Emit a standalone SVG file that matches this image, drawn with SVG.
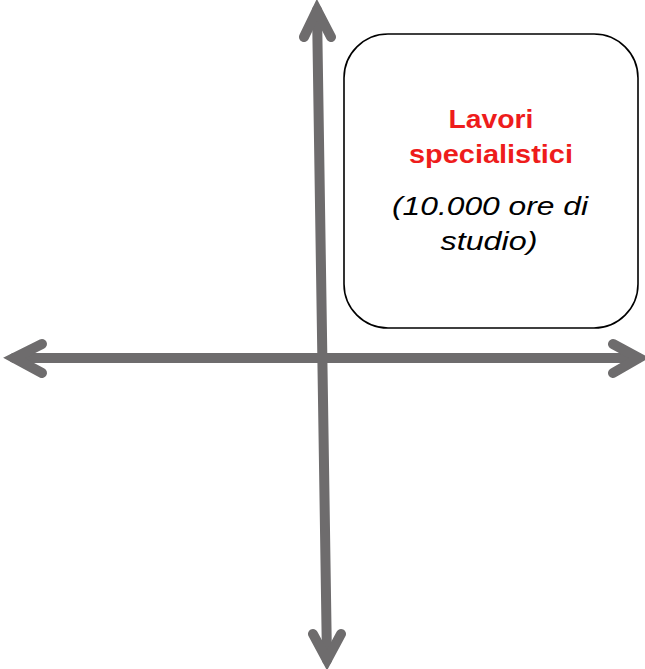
<svg xmlns="http://www.w3.org/2000/svg" width="645" height="669" viewBox="0 0 645 669">
  <style>
    .axis { fill: none; stroke: #6e6c6d; stroke-width: 10; stroke-linecap: round; stroke-linejoin: miter; }
    .box { fill: #ffffff; stroke: #000000; stroke-width: 1.6; }
    .title { font-family: "Liberation Sans", Arial, sans-serif; font-weight: bold; font-size: 26px; fill: #ee1c1c; text-anchor: middle; }
    .note { font-family: "Liberation Sans", Arial, sans-serif; font-style: italic; font-size: 26px; fill: #000000; text-anchor: middle; }
  </style>
  <rect width="645" height="669" fill="#ffffff"/>
  <g id="connectors">
    <!-- vertical axis with both heads -->
    <line class="axis" x1="317" y1="10" x2="327" y2="660"/>
    <polyline class="axis" points="304,37 317,10 331,37"/>
    <polyline class="axis" points="313,634 327,660 341,634"/>
    <!-- horizontal axis with both heads -->
    <line class="axis" x1="14" y1="358" x2="638" y2="358"/>
    <polyline class="axis" points="42,344 14,358 42,373"/>
    <polyline class="axis" points="613,344 639,358 613,373"/>
  </g>
  <g id="node-lavori">
    <rect class="box" x="344" y="34" width="294" height="294" rx="44" ry="44"/>
    <text class="title" x="491" y="128" textLength="85" lengthAdjust="spacingAndGlyphs">Lavori</text>
    <text class="title" x="491" y="163" textLength="164" lengthAdjust="spacingAndGlyphs">specialistici</text>
    <text class="note" x="490" y="215" textLength="196" lengthAdjust="spacingAndGlyphs">(10.000 ore di</text>
    <text class="note" x="489" y="250" textLength="97" lengthAdjust="spacingAndGlyphs">studio)</text>
  </g>
</svg>
